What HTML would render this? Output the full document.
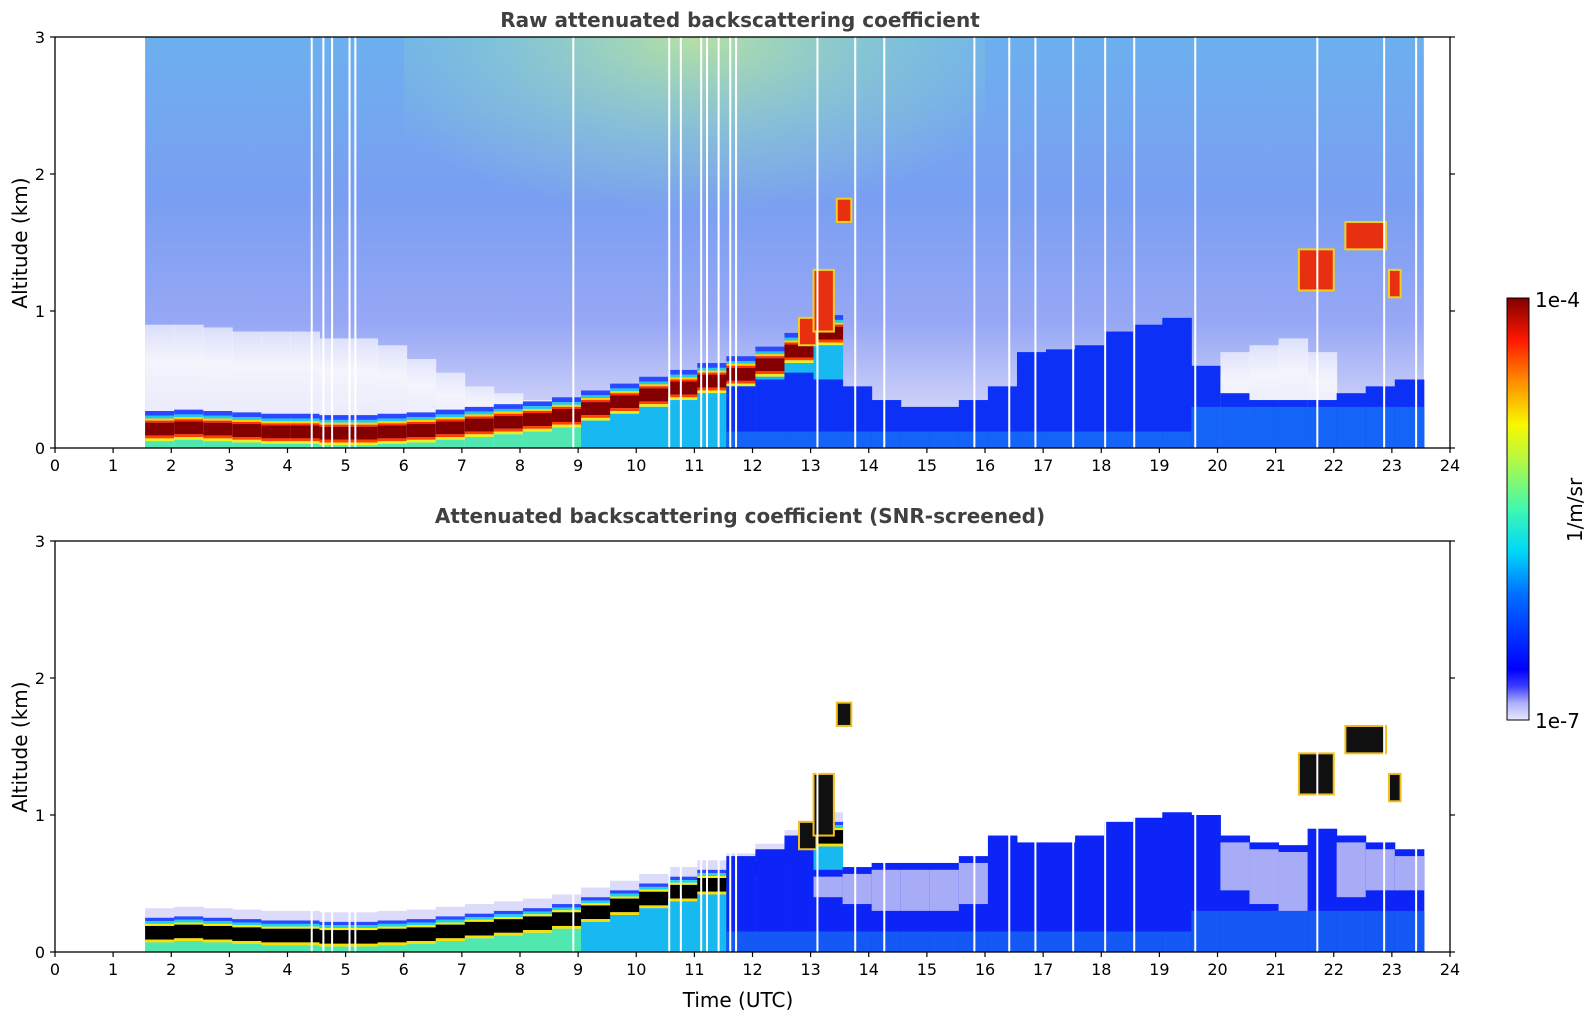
<!DOCTYPE html>
<html><head><meta charset="utf-8"><style>
html,body{margin:0;padding:0;background:#fff;}
svg{display:block;font-family:"DejaVu Sans","Liberation Sans",sans-serif;}
</style></head><body>
<svg id="chart" width="1595" height="1020" viewBox="0 0 1595 1020">
<defs>
<linearGradient id="upperTint" x1="0" y1="0" x2="0" y2="1">
<stop offset="0" stop-color="#6cb0ee"/><stop offset="0.4" stop-color="#7a9ef2"/><stop offset="0.7" stop-color="#97a8f5"/><stop offset="0.85" stop-color="#c0c6f8"/><stop offset="1" stop-color="#e4e6fb"/>
</linearGradient>
<radialGradient id="greenTint" cx="0.5" cy="0" r="0.6" gradientUnits="objectBoundingBox">
<stop offset="0" stop-color="#c8ec90" stop-opacity="0.8"/><stop offset="0.6" stop-color="#a0e0b8" stop-opacity="0.35"/><stop offset="1" stop-color="#a0e0b8" stop-opacity="0"/>
</radialGradient>
<linearGradient id="lavTint" x1="0" y1="0" x2="0" y2="1">
<stop offset="0" stop-color="#f4f4fd" stop-opacity="0.7"/><stop offset="0.3" stop-color="#f4f4fd"/><stop offset="1" stop-color="#e4e4fa"/>
</linearGradient>
<linearGradient id="cbar" x1="0" y1="1" x2="0" y2="0">
<stop offset="0" stop-color="#e8e8fb"/><stop offset="0.04" stop-color="#aeb0fa"/><stop offset="0.08" stop-color="#3a3cff"/><stop offset="0.12" stop-color="#0000ff"/>
<stop offset="0.3" stop-color="#0070ff"/><stop offset="0.4" stop-color="#00d8f8"/><stop offset="0.5" stop-color="#40f8b0"/>
<stop offset="0.62" stop-color="#b8f840"/><stop offset="0.7" stop-color="#f8f800"/><stop offset="0.8" stop-color="#ff9000"/><stop offset="0.9" stop-color="#ff1800"/><stop offset="1" stop-color="#800000"/>
</linearGradient>
</defs>
<g id="gtop"></g>
<g id="gbot"></g>
<g id="axes"></g>
<text x="740" y="27" text-anchor="middle" font-size="20" font-weight="bold" fill="#404040">Raw attenuated backscattering coefficient</text>
<text x="740" y="523" text-anchor="middle" font-size="20" font-weight="bold" fill="#404040">Attenuated backscattering coefficient (SNR-screened)</text>
<text x="738" y="1007" text-anchor="middle" font-size="20" fill="#000">Time (UTC)</text>
<text transform="translate(27,243) rotate(-90)" text-anchor="middle" font-size="20">Altitude (km)</text>
<text transform="translate(27,747) rotate(-90)" text-anchor="middle" font-size="20">Altitude (km)</text>
<rect x="1507" y="298" width="22" height="422" fill="url(#cbar)" stroke="#000" stroke-width="1"/>
<text x="1535" y="307" font-size="20">1e-4</text>
<text x="1535" y="728" font-size="20">1e-7</text>
<text transform="translate(1582,510) rotate(-90)" text-anchor="middle" font-size="20">1/m/sr</text>
</svg>
<script>
// 0.5 h columns starting at 1.55 h
const colStart = [1.55,2.05,2.55,3.05,3.55,4.05,4.55,5.05,5.55,6.05,6.55,7.05,7.55,8.05,8.55,9.05,9.55,10.05,10.55,11.05,11.55,12.05,12.55,13.05,13.55,14.05,14.55,15.05,15.55,16.05,16.55,17.05,17.55,18.05,18.55,19.05,19.55,20.05,20.55,21.05,21.55,22.05,22.55,23.05];
// aerosol layer centre height (km), 0 = none
const layerHeight = [0.15,0.16,0.15,0.14,0.13,0.13,0.12,0.12,0.13,0.14,0.16,0.18,0.2,0.22,0.25,0.3,0.35,0.4,0.45,0.5,0.55,0.62,0.72,0.85,0,0,0,0,0,0,0,0,0,0,0,0,0,0,0,0,0,0,0,0];
// blue mixed region top, raw panel (km)
const blueTopRaw = [0,0,0,0,0,0,0,0,0,0,0,0,0,0,0,0,0,0,0,0,0.45,0.5,0.55,0.5,0.45,0.35,0.3,0.3,0.35,0.45,0.7,0.72,0.75,0.85,0.9,0.95,0.6,0.4,0.35,0.35,0.35,0.4,0.45,0.5];
// blue region top, screened panel (km)
const blueTopSnr = [0,0,0,0,0,0,0,0,0,0,0,0,0,0,0,0,0,0,0,0,0.7,0.75,0.85,0.6,0.62,0.65,0.65,0.65,0.7,0.85,0.8,0.8,0.85,0.95,0.98,1.02,1.0,0.85,0.8,0.78,0.9,0.85,0.8,0.75];
// lavender (low-SNR) zone start in screened panel (km), 0 = none
const lavStartSnr = [0,0,0,0,0,0,0,0,0,0,0,0,0,0,0,0,0,0,0,0,0,0,0,0.4,0.35,0.3,0.3,0.3,0.35,0,0,0,0,0,0,0,0,0.45,0.35,0.3,0,0.4,0.45,0.45];
// lavender clear-air zone top, raw panel (km)
const lavTopRaw = [0.9,0.9,0.88,0.85,0.85,0.85,0.8,0.8,0.75,0.65,0.55,0.45,0.4,0.35,0.3,0,0,0,0,0,0,0,0,0,0,0,0,0,0,0,0,0,0,0,0,0,0,0.7,0.75,0.8,0.7,0,0,0];
// clouds
const cloudStart = [12.8,13.05,13.45,21.4,22.2,22.95];
const cloudEnd = [13.1,13.4,13.7,22.0,22.9,23.15];
const cloudBase = [0.75,0.85,1.65,1.15,1.45,1.1];
const cloudTop = [0.95,1.3,1.82,1.45,1.65,1.3];
// data gaps (h)
const gapTimes = [4.4,4.6,4.75,5.05,5.15,8.9,10.55,10.75,11.1,11.2,11.4,11.6,11.7,13.1,13.75,14.25,15.8,16.4,16.85,17.5,18.05,18.55,19.6,21.7,22.85,23.4];
const xTicks = [0,1,2,3,4,5,6,7,8,9,10,11,12,13,14,15,16,17,18,19,20,21,22,23,24];
const yTicks = [0,1,2,3];

const NS='http://www.w3.org/2000/svg';
const X = t => 55 + t*58.125;
const Ytop = k => 448 - k*137;
const Ybot = k => 952 - k*137;
function mk(parent, tag, attrs){const e=document.createElementNS(NS,tag);for(const k in attrs)e.setAttribute(k,attrs[k]);parent.appendChild(e);return e;}
const gTop=document.getElementById('gtop'), gBot=document.getElementById('gbot'), axes=document.getElementById('axes');
const W=0.5;

// ---- raw panel
let e=mk(gTop,'rect',{x:X(1.55),y:Ytop(3),width:X(23.55)-X(1.55),height:Ytop(0)-Ytop(3),fill:'url(#upperTint)'});


e=mk(gTop,'rect',{x:X(6),y:Ytop(3),width:X(16)-X(6),height:Ytop(0.8)-Ytop(3),fill:'url(#greenTint)'});


colStart.forEach((t,i)=>{
  const x=X(t), w=X(t+W)-X(t)+0.5;
  if(lavTopRaw[i]>0){
    const r=mk(gTop,'rect',{x:x,y:Ytop(lavTopRaw[i]),width:w,height:Ytop(0)-Ytop(lavTopRaw[i]),fill:'url(#lavTint)'});
    
    
  }
  const h=layerHeight[i];
  if(h>0){
    const bands=[[h+0.12,h+0.085,'#2a48ff'],[h+0.085,h+0.065,'#20c8f0'],[h+0.065,h+0.05,'#ffd000'],[h+0.05,h+0.035,'#ff3000'],[h+0.035,h-0.06,'#840000'],[h-0.06,h-0.08,'#ff4000'],[h-0.08,h-0.1,'#e8f020'],[h-0.1,0,i>=15?'#18b8f0':'#50e8b0']];
    bands.forEach(b=>{const t1=b[0], bt=Math.max(0,b[1]);
      const r=mk(gTop,'rect',{x:x,y:Ytop(t1),width:w,height:Math.max(0,Ytop(bt)-Ytop(t1)),fill:b[2]});
      
      });
  }
  const b=blueTopRaw[i];
  if(b>0){
    const r=mk(gTop,'rect',{x:x,y:Ytop(b),width:w,height:Ytop(0)-Ytop(b),fill:'#0c30f6'});
    
    
    const sh = i>=36 ? 0.3 : 0.12;
    const r2=mk(gTop,'rect',{x:x,y:Ytop(sh),width:w,height:Ytop(0)-Ytop(sh),fill:'#1464f8'});
    
    
  }
});
cloudStart.forEach((s,i)=>{
  const r=mk(gTop,'rect',{x:X(s),y:Ytop(cloudTop[i]),width:X(cloudEnd[i])-X(s),height:Ytop(cloudBase[i])-Ytop(cloudTop[i]),fill:'#e83010',stroke:'#f0d020','stroke-width':2});
  
  
});

// ---- screened panel
colStart.forEach((t,i)=>{
  const x=X(t), w=X(t+W)-X(t)+0.5;
  const h=layerHeight[i];
  if(h>0){
    const bands=[[h+0.17,h+0.1,'#dcdcfa'],[h+0.1,h+0.075,'#2a48ff'],[h+0.075,h+0.055,'#20d0f0'],[h+0.055,h+0.04,'#f8f000'],[h+0.04,h-0.06,'#000000'],[h-0.06,h-0.08,'#f8e000'],[h-0.08,0,i>=15?'#18b8f0':'#50e8b0']];
    bands.forEach(b=>{const t1=b[0], bt=Math.max(0,b[1]);
      const r=mk(gBot,'rect',{x:x,y:Ybot(t1),width:w,height:Math.max(0,Ybot(bt)-Ybot(t1)),fill:b[2]});
      
      });
  }
  const b=blueTopSnr[i];
  if(b>0){
    const r=mk(gBot,'rect',{x:x,y:Ybot(b),width:w,height:Ybot(0)-Ybot(b),fill:'#0c24f6'});
    
    
    const sh = i>=36 ? 0.3 : 0.15;
    const r2=mk(gBot,'rect',{x:x,y:Ybot(sh),width:w,height:Ybot(0)-Ybot(sh),fill:'#1458f6'});
    
    
    if(lavStartSnr[i]>0){
      const r3=mk(gBot,'rect',{x:x,y:Ybot(b-0.05),width:w,height:Ybot(lavStartSnr[i])-Ybot(b-0.05),fill:'#a8acf6'});
      
      
    }
  }
});
cloudStart.forEach((s,i)=>{
  const r=mk(gBot,'rect',{x:X(s),y:Ybot(cloudTop[i]),width:X(cloudEnd[i])-X(s),height:Ybot(cloudBase[i])-Ybot(cloudTop[i]),fill:'#101010',stroke:'#f0c020','stroke-width':2});
  
  
});

// gaps
gapTimes.forEach(g=>{
  [[Ytop,gTop],[Ybot,gBot]].forEach(p=>{
    const r=mk(p[1],'rect',{x:X(g),y:p[0](3),width:2,height:p[0](0)-p[0](3),fill:'#fff'});
    
    
  });
});

// axes
[[Ytop,'top'],[Ybot,'bottom']].forEach(p=>{
  const Y=p[0];
  const f=mk(axes,'rect',{x:X(0),y:Y(3),width:X(24)-X(0),height:Y(0)-Y(3),fill:'none',stroke:'#000','stroke-width':1.3});
  
  
  xTicks.forEach(v=>{
    const l=mk(axes,'line',{x1:X(v),x2:X(v),y1:Y(0),y2:Y(0)+5,stroke:'#000','stroke-width':1.2});
    
    
    const tx=mk(axes,'text',{x:X(v),y:Y(0)+23,'text-anchor':'middle','font-size':16});
    tx.textContent=v;
    
    
  });
  yTicks.forEach(v=>{
    const l=mk(axes,'line',{x1:X(0)-5,x2:X(0),y1:Y(v),y2:Y(v),stroke:'#000','stroke-width':1.2});
    
    
    const l2=mk(axes,'line',{x1:X(24),x2:X(24)+5,y1:Y(v),y2:Y(v),stroke:'#000','stroke-width':1.2});
    
    
    const tx=mk(axes,'text',{x:X(0)-10,y:Y(v)+6,'text-anchor':'end','font-size':16});
    tx.textContent=v;
    
    
  });
});
</script>
</body></html>
